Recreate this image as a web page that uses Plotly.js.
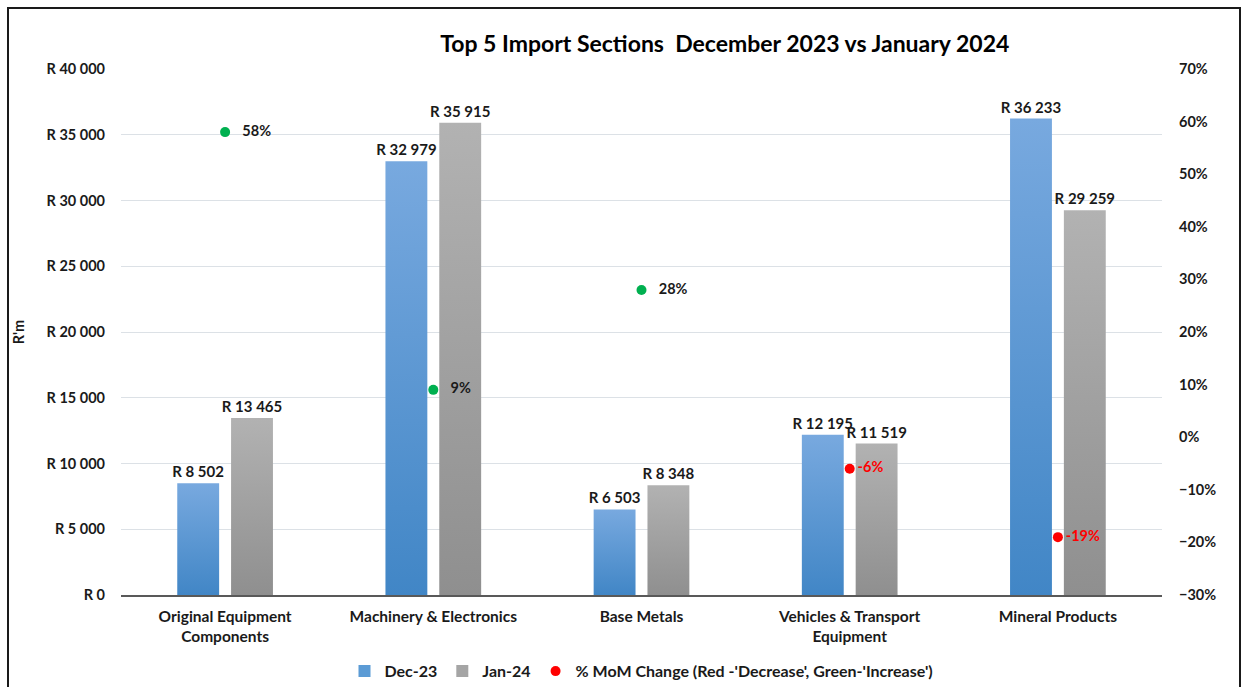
<!DOCTYPE html>
<html>
<head>
<meta charset="utf-8">
<script src="https://cdn.plot.ly/plotly-3.0.1.min.js"></script>
<style>
  html, body { margin: 0; padding: 0; background: #fff; }
  #wrap { position: relative; width: 1241px; height: 687px; overflow: hidden; }
  #chart { width: 1241px; height: 687px; }
  #frame { position: absolute; left: 7px; top: 7px; width: 1234px; height: 720px; border: 2px solid #1a1a1a; box-sizing: border-box; pointer-events: none; }
</style>
</head>
<body>
<div id="wrap">
  <div id="chart"></div>
  <div id="frame"></div>
</div>
<script>
const categories = ["Original Equipment<br>Components", "Machinery & Electronics", "Base Metals", "Vehicles & Transport<br>Equipment", "Mineral Products"];
const dec23 = [8502, 32979, 6503, 12195, 36233];
const jan24 = [13465, 35915, 8348, 11519, 29259];
const momChange = [0.58, 0.09, 0.28, -0.06, -0.19];
const seriesNames = ["Dec-23", "Jan-24", "% MoM Change (Red -'Decrease', Green-'Increase')"];

const FONT = "Lato, 'Open Sans', sans-serif";
const dotColors = momChange.map(v => v < 0 ? "#FF0000" : "#00B050");
const pctText = momChange.map(v => Math.round(v * 100) + "%");
const pctTextColors = momChange.map(v => v < 0 ? "#FF0000" : "#1a1a1a");
const labelPad = momChange.map(v => v < 0 ? 11 : 26);

const traces = [
  {
    type: "bar", name: seriesNames[0], x: categories, y: dec23,
    marker: { color: "#5B9BD5" },
    texttemplate: "R %{y:,d}", textposition: "outside", cliponaxis: false, constraintext: "none",
    textfont: { family: FONT, size: 15, color: "#1a1a1a", weight: "bold" },
    hoverinfo: "y"
  },
  {
    type: "bar", name: seriesNames[1], x: categories, y: jan24,
    marker: { color: "#A5A5A5" },
    texttemplate: "R %{y:,d}", textposition: "outside", cliponaxis: false, constraintext: "none",
    textfont: { family: FONT, size: 15, color: "#1a1a1a", weight: "bold" },
    hoverinfo: "y"
  },
  {
    type: "scatter", mode: "markers+text", showlegend: false, x: categories, y: momChange, yaxis: "y2",
    marker: { color: "rgba(0,0,0,0)", size: labelPad, opacity: 0, line: { width: 0 } },
    text: pctText, textposition: "middle right",
    textfont: { family: FONT, size: 14.5, color: pctTextColors, weight: "bold" },
    hoverinfo: "skip"
  },
  {
    type: "scatter", mode: "markers", name: seriesNames[2], x: categories, y: momChange, yaxis: "y2",
    marker: { color: dotColors, size: 10, line: { width: 0 } },
    hoverinfo: "y"
  }
];

const layout = {
  width: 1241, height: 687,
  margin: { l: 121, r: 79, t: 69, b: 92, autoexpand: false },
  paper_bgcolor: "#fff", plot_bgcolor: "#fff",
  separators: ". ",
  font: { family: FONT, size: 13, color: "#1a1a1a" },
  title: {
    text: "Top 5 Import Sections  December 2023 vs January 2024",
    font: { family: FONT, size: 23, color: "#000", weight: "bold" },
    x: 0.58, xref: "paper", xanchor: "center", y: 0.936, yref: "container", yanchor: "middle"
  },
  barmode: "group", bargap: 0.483, bargroupgap: 0.222,
  xaxis: {
    type: "category",
    showline: true, linecolor: "#595959", linewidth: 1.5,
    ticks: "", showgrid: false, automargin: false, ticklabelstandoff: 7,
    tickfont: { family: FONT, size: 15.5, color: "#1a1a1a", weight: "bold" }
  },
  yaxis: {
    range: [0, 40000], dtick: 5000, tickprefix: "R ", tickformat: ",d",
    showgrid: true, gridcolor: "#DCE1E6", gridwidth: 1, zeroline: false,
    ticks: "", ticklen: 0, automargin: false, ticklabelstandoff: 15,
    tickfont: { family: FONT, size: 14.5, color: "#1a1a1a", weight: "bold" },
    title: { text: "R'm", font: { family: FONT, size: 14.5, color: "#1a1a1a", weight: "bold" }, standoff: 18 }
  },
  yaxis2: {
    overlaying: "y", side: "right",
    range: [-0.3, 0.7], dtick: 0.1, tickformat: ".0%",
    showgrid: false, zeroline: false, ticks: "", automargin: false, ticklabelstandoff: 16,
    tickfont: { family: FONT, size: 14.5, color: "#1a1a1a", weight: "bold" }
  },
  legend: {
    orientation: "h", x: 0.5, xanchor: "center", xref: "paper",
    y: 0.023, yref: "container", yanchor: "middle",
    font: { family: FONT, size: 16, color: "#1a1a1a", weight: "bold" },
    itemwidth: 30, traceorder: "normal"
  },
  showlegend: true
};

Plotly.newPlot("chart", traces, layout, { displayModeBar: false, staticPlot: true }).then(gd => {
  // Excel-style vertical gradient shading on bars
  const svg = gd.querySelector(".main-svg");
  const ns = "http://www.w3.org/2000/svg";
  let defs = svg.querySelector("defs");
  if (!defs) { defs = document.createElementNS(ns, "defs"); svg.insertBefore(defs, svg.firstChild); }
  function addGrad(id, top, bottom) {
    const g = document.createElementNS(ns, "linearGradient");
    g.setAttribute("id", id); g.setAttribute("x1", "0"); g.setAttribute("y1", "0"); g.setAttribute("x2", "0"); g.setAttribute("y2", "1");
    [[0, top], [1, bottom]].forEach(([o, c]) => {
      const s = document.createElementNS(ns, "stop");
      s.setAttribute("offset", o); s.setAttribute("stop-color", c);
      g.appendChild(s);
    });
    defs.appendChild(g);
  }
  addGrad("gradBlue", "#78A9DF", "#4186C6");
  addGrad("gradGray", "#B2B2B2", "#8F8F8F");
  const traceGroups = gd.querySelectorAll(".barlayer .trace");
  const fills = ["url(#gradBlue)", "url(#gradGray)"];
  traceGroups.forEach((tg, i) => {
    tg.querySelectorAll(".point path").forEach(p => { p.style.fill = fills[i] || p.style.fill; });
  });
  // Legend dot for the % change series is shown in red, as in the original
  const legendItems = gd.querySelectorAll(".legend .traces");
  legendItems.forEach(item => {
    const txt = item.querySelector(".legendtext");
    if (txt && txt.textContent.indexOf("MoM") >= 0) {
      item.querySelectorAll(".legendpoints path").forEach(p => { p.style.fill = "#FF0000"; });
    }
  });
});
</script>
</body>
</html>
